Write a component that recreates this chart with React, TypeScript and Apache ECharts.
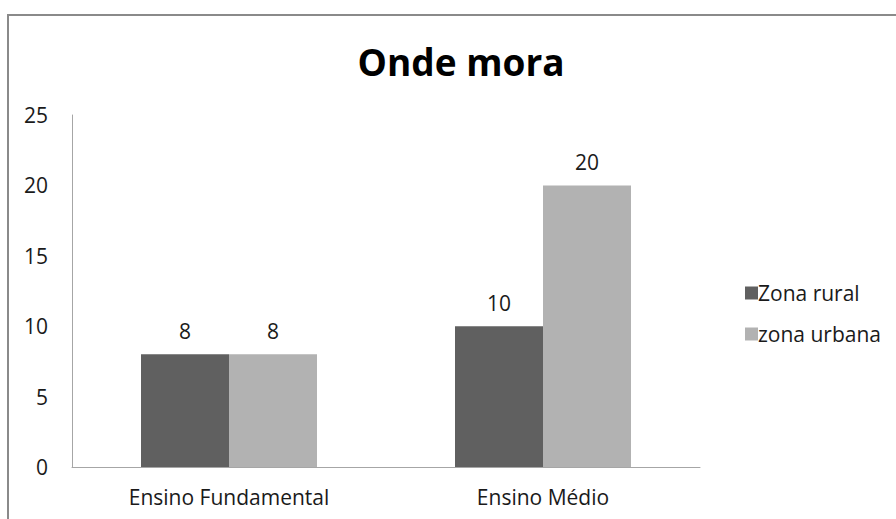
import React, { useEffect, useRef } from "react";
import * as echarts from "echarts";

const categories = ["Ensino Fundamental", "Ensino Médio"];
const seriesNames = ["Zona rural", "zona urbana"];
const ruralValues = [8, 10];
const urbanValues = [8, 20];
const yTicks = { min: 0, max: 25, interval: 5 };

export default function App() {
  const ref = useRef<HTMLDivElement>(null);
  useEffect(() => {
    if (!ref.current) return;
    const chart = echarts.init(ref.current, undefined, { renderer: "svg" });
    const font = "'Open Sans', 'Noto Sans', sans-serif";
    const fs = 21;
    chart.setOption({
      animation: false,
      backgroundColor: "#ffffff",
      textStyle: { fontFamily: font },
      title: {
        text: "Onde mora",
        left: 456,
        top: 38,
        textAlign: "center",
        textStyle: { fontFamily: font, fontWeight: "bold", fontSize: 37, color: "#000" },
      },
      graphic: [
        {
          type: "rect",
          shape: { x: 8, y: 15, width: 1000, height: 1000 },
          style: { fill: "none", stroke: "#8a8a8a", lineWidth: 2 },
          silent: true,
        },
      ],
      legend: {
        orient: "vertical",
        left: 740,
        top: 276,
        itemWidth: 13,
        itemHeight: 13,
        itemGap: 17,
        icon: "rect",
        data: seriesNames,
        textStyle: { fontFamily: font, fontSize: fs, color: "#1a1a1a", lineHeight: 24, padding: [0, 0, 0, -5] },
      },
      grid: { left: 72, right: 196, top: 115, bottom: 52, containLabel: false },
      xAxis: {
        type: "category",
        data: categories,
        axisLine: { lineStyle: { color: "#a6a6a6", width: 1 } },
        axisTick: { show: false },
        axisLabel: { fontFamily: font, fontSize: fs, color: "#1a1a1a", margin: 19 },
      },
      yAxis: {
        type: "value",
        min: yTicks.min,
        max: yTicks.max,
        interval: yTicks.interval,
        axisLine: { show: true, lineStyle: { color: "#a6a6a6", width: 1 } },
        axisTick: { show: false },
        splitLine: { show: false },
        axisLabel: { fontFamily: font, fontSize: fs, color: "#1a1a1a", margin: 24 },
      },
      series: [
        {
          name: seriesNames[0],
          type: "bar",
          data: ruralValues,
          barWidth: 88,
          barGap: "0%",
          itemStyle: { color: "#606060" },
          label: { show: true, position: "top", distance: 13, fontFamily: font, fontSize: fs, color: "#1a1a1a" },
        },
        {
          name: seriesNames[1],
          type: "bar",
          data: urbanValues,
          barWidth: 88,
          barGap: "0%",
          itemStyle: { color: "#b2b2b2" },
          label: { show: true, position: "top", distance: 13, fontFamily: font, fontSize: fs, color: "#1a1a1a" },
        },
      ],
    });
    return () => chart.dispose();
  }, []);
  return (
    <div
      ref={ref}
      style={{ position: "fixed", left: 0, top: 0, width: 896, height: 519 }}
    />
  );
}
